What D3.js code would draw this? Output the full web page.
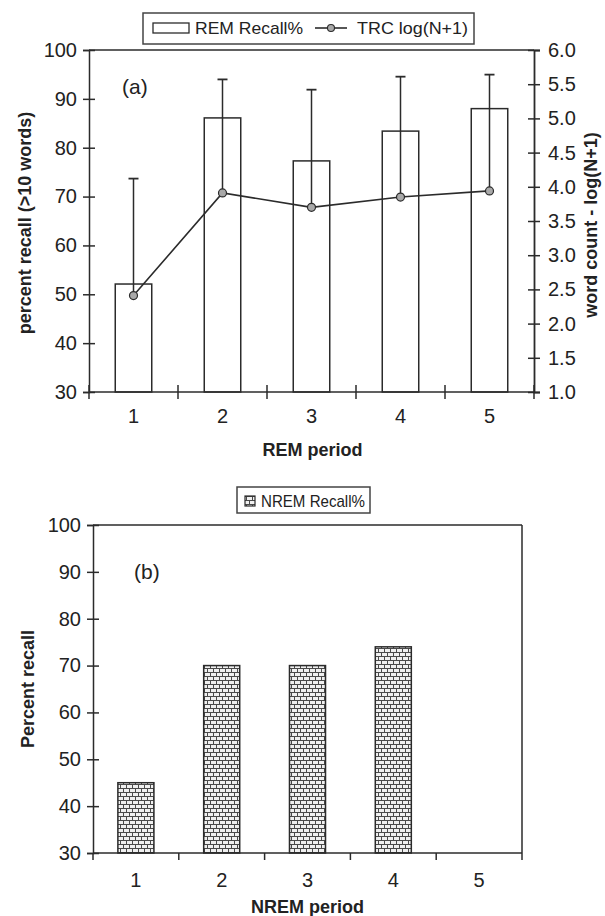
<!DOCTYPE html>
<html><head><meta charset="utf-8">
<script src="https://cdn.jsdelivr.net/npm/d3@7"></script>
<style>
html,body{margin:0;padding:0;background:#fff;}
text{font-family:"Liberation Sans",Arial,sans-serif;fill:#222;}
</style></head>
<body>
<svg id="c" width="605" height="916"></svg>
<script>
// ---- data ----
const periods = [1, 2, 3, 4, 5];
const remRecall = [52.1, 86.1, 77.3, 83.4, 88.0];      // % (left axis)
const trcLog = [2.41, 3.91, 3.70, 3.85, 3.94];         // log(N+1) (right axis)
const trcErr = [1.71, 1.66, 1.72, 1.76, 1.70];         // upper error
const nremRecall = [45, 70, 70, 74, null];             // %
const pctTicks = [30, 40, 50, 60, 70, 80, 90, 100];
const logTicks = [1.0, 1.5, 2.0, 2.5, 3.0, 3.5, 4.0, 4.5, 5.0, 5.5, 6.0];

const svg = d3.select("#c");
const ink = "#2b2b2b";

// pattern for NREM bars
const defs = svg.append("defs");
const pat = defs.append("pattern").attr("id", "brick").attr("patternUnits", "userSpaceOnUse")
  .attr("width", 6).attr("height", 8);
pat.append("rect").attr("width", 6).attr("height", 8).attr("fill", "#f0f0f0");
pat.append("path").attr("d", "M0,0.5H6M0,4.5H6M0.5,0.5V4.5M3.5,4.5V8.5")
  .attr("stroke", "#4a4a4a").attr("stroke-width", 1).attr("fill", "none");

function xAxisG(g, x, y0, crossing, labelY) {
  const bounds = d3.range(0.5, 5.6, 1);
  g.selectAll(".xt").data(bounds).join("line")
    .attr("x1", d => x(d)).attr("x2", d => x(d))
    .attr("y1", y0 - (crossing ? 7 : 0)).attr("y2", y0 + 7)
    .attr("stroke", ink).attr("stroke-width", 1.5);
  g.append("line").attr("x1", x(0.5)).attr("x2", x(5.5)).attr("y1", y0).attr("y2", y0)
    .attr("stroke", ink).attr("stroke-width", 1.5);
  g.selectAll(".xl").data(periods).join("text")
    .attr("x", d => x(d)).attr("y", labelY).attr("text-anchor", "middle")
    .attr("font-size", 20).text(d => d);
}

function yAxisLeft(g, y, x0) {
  const ax = d3.axisLeft(y).tickValues(pctTicks).tickSize(6).tickPadding(6).tickFormat(d3.format("d"));
  const a = g.append("g").attr("transform", `translate(${x0},0)`).call(ax);
  a.select(".domain").attr("stroke", ink).attr("stroke-width", 1.5);
  a.selectAll(".tick line").attr("x1", -6).attr("x2", 6).attr("stroke", ink).attr("stroke-width", 1.5);
  a.selectAll(".tick text").attr("font-size", 20).attr("fill", "#222")
    .attr("font-family", '"Liberation Sans",Arial,sans-serif');
  return a;
}

// ===================== Panel (a) =====================
const A = {l: 89, r: 534, t: 50, b: 392};
const xa = d3.scaleLinear().domain([0.5, 5.5]).range([A.l, A.r]);
const ya = d3.scaleLinear().domain([30, 100]).range([A.b, A.t]);
const yr = d3.scaleLinear().domain([1, 6]).range([A.b, A.t]);
const bw = (xa(1) - xa(0)) * 0.41;
const ga = svg.append("g");

ga.append("line").attr("x1", A.l).attr("x2", A.r).attr("y1", A.t).attr("y2", A.t)
  .attr("stroke", ink).attr("stroke-width", 1.5);

ga.selectAll(".bar").data(periods).join("rect")
  .attr("x", (d, i) => xa(d) - bw / 2).attr("width", bw)
  .attr("y", (d, i) => ya(remRecall[i])).attr("height", (d, i) => A.b - ya(remRecall[i]))
  .attr("fill", "#fff").attr("stroke", ink).attr("stroke-width", 1.5);

ga.selectAll(".eb").data(periods).join("line")
  .attr("x1", d => xa(d)).attr("x2", d => xa(d))
  .attr("y1", (d, i) => yr(trcLog[i])).attr("y2", (d, i) => yr(trcLog[i] + trcErr[i]))
  .attr("stroke", ink).attr("stroke-width", 1.5);
ga.selectAll(".ec").data(periods).join("line")
  .attr("x1", d => xa(d) - 5).attr("x2", d => xa(d) + 5)
  .attr("y1", (d, i) => yr(trcLog[i] + trcErr[i])).attr("y2", (d, i) => yr(trcLog[i] + trcErr[i]))
  .attr("stroke", ink).attr("stroke-width", 1.8);

const line = d3.line().x(d => xa(d[0])).y(d => yr(d[1]));
ga.append("path").datum(periods.map((p, i) => [p, trcLog[i]])).attr("d", line)
  .attr("fill", "none").attr("stroke", ink).attr("stroke-width", 1.6);
ga.selectAll(".pt").data(periods).join("circle")
  .attr("cx", d => xa(d)).attr("cy", (d, i) => yr(trcLog[i])).attr("r", 4)
  .attr("fill", "#a9a9a9").attr("stroke", ink).attr("stroke-width", 1.2);

yAxisLeft(ga, ya, A.l);
const axr = d3.axisRight(yr).tickValues(logTicks).tickSize(6).tickPadding(8).tickFormat(d3.format(".1f"));
const ar = ga.append("g").attr("transform", `translate(${A.r},0)`).call(axr);
ar.select(".domain").attr("stroke", ink).attr("stroke-width", 1.8);
ar.selectAll(".tick line").attr("x1", -6).attr("x2", 6).attr("stroke", ink).attr("stroke-width", 1.5);
ar.selectAll(".tick text").attr("font-size", 20).attr("fill", "#222")
  .attr("font-family", '"Liberation Sans",Arial,sans-serif');
xAxisG(ga, xa, A.b, true, 423);

ga.append("text").attr("transform", `translate(31,${(A.t + A.b) / 2 + 2}) rotate(-90)`)
  .attr("text-anchor", "middle").attr("font-size", 18).attr("font-weight", "bold")
  .text("percent recall (>10 words)");
ga.append("text").attr("transform", `translate(597,${(A.t + A.b) / 2 + 4}) rotate(-90)`)
  .attr("text-anchor", "middle").attr("font-size", 18).attr("font-weight", "bold")
  .text("word count - log(N+1)");
ga.append("text").attr("x", (A.l + A.r) / 2 + 1).attr("y", 456).attr("text-anchor", "middle")
  .attr("font-size", 18).attr("font-weight", "bold").text("REM period");
ga.append("text").attr("x", 122).attr("y", 94).attr("font-size", 21).text("(a)");

// legend a
ga.append("rect").attr("x", 143).attr("y", 13).attr("width", 331).attr("height", 31)
  .attr("fill", "#fff").attr("stroke", "#444").attr("stroke-width", 1.5);
ga.append("rect").attr("x", 153).attr("y", 23).attr("width", 36).attr("height", 10)
  .attr("fill", "#fff").attr("stroke", ink).attr("stroke-width", 1.3);
ga.append("text").attr("x", 195).attr("y", 34).attr("font-size", 17)
  .attr("textLength", 108).attr("lengthAdjust", "spacingAndGlyphs").text("REM Recall%");
ga.append("line").attr("x1", 315).attr("x2", 347).attr("y1", 28).attr("y2", 28)
  .attr("stroke", ink).attr("stroke-width", 1.6);
ga.append("circle").attr("cx", 331).attr("cy", 28).attr("r", 3.5)
  .attr("fill", "#a9a9a9").attr("stroke", ink).attr("stroke-width", 1.1);
ga.append("text").attr("x", 357).attr("y", 34).attr("font-size", 17)
  .attr("textLength", 111).attr("lengthAdjust", "spacingAndGlyphs").text("TRC log(N+1)");

// ===================== Panel (b) =====================
const B = {l: 93, r: 522, t: 525, b: 853};
const xb = d3.scaleLinear().domain([0.5, 5.5]).range([B.l, B.r]);
const yb = d3.scaleLinear().domain([30, 100]).range([B.b, B.t]);
const bwb = (xb(1) - xb(0)) * 0.42;
const gb = svg.append("g");

gb.append("line").attr("x1", B.l).attr("x2", B.r).attr("y1", B.t).attr("y2", B.t)
  .attr("stroke", ink).attr("stroke-width", 1.5);
gb.append("line").attr("x1", B.r).attr("x2", B.r).attr("y1", B.t).attr("y2", B.b)
  .attr("stroke", ink).attr("stroke-width", 1.5);

const nb = periods.map((p, i) => ({p, v: nremRecall[i]})).filter(d => d.v != null);
gb.selectAll(".bar").data(nb).join("rect")
  .attr("x", d => xb(d.p) - bwb / 2).attr("width", bwb)
  .attr("y", d => yb(d.v)).attr("height", d => B.b - yb(d.v))
  .attr("fill", "url(#brick)").attr("stroke", ink).attr("stroke-width", 1.5);

yAxisLeft(gb, yb, B.l);
xAxisG(gb, xb, B.b, false, 887);

gb.append("text").attr("transform", `translate(34,${(B.t + B.b) / 2}) rotate(-90)`)
  .attr("text-anchor", "middle").attr("font-size", 18).attr("font-weight", "bold")
  .text("Percent recall");
gb.append("text").attr("x", (B.l + B.r) / 2).attr("y", 913).attr("text-anchor", "middle")
  .attr("font-size", 18).attr("font-weight", "bold").text("NREM period");
gb.append("text").attr("x", 134).attr("y", 579).attr("font-size", 21).text("(b)");

// legend b
gb.append("rect").attr("x", 237).attr("y", 487).attr("width", 133).attr("height", 26)
  .attr("fill", "#fff").attr("stroke", "#444").attr("stroke-width", 1.5);
gb.append("rect").attr("x", 245).attr("y", 496).attr("width", 10).attr("height", 10)
  .attr("fill", "url(#brick)").attr("stroke", ink).attr("stroke-width", 1.2);
gb.append("text").attr("x", 261).attr("y", 507).attr("font-size", 17)
  .attr("textLength", 104).attr("lengthAdjust", "spacingAndGlyphs").text("NREM Recall%");
</script>
</body></html>
